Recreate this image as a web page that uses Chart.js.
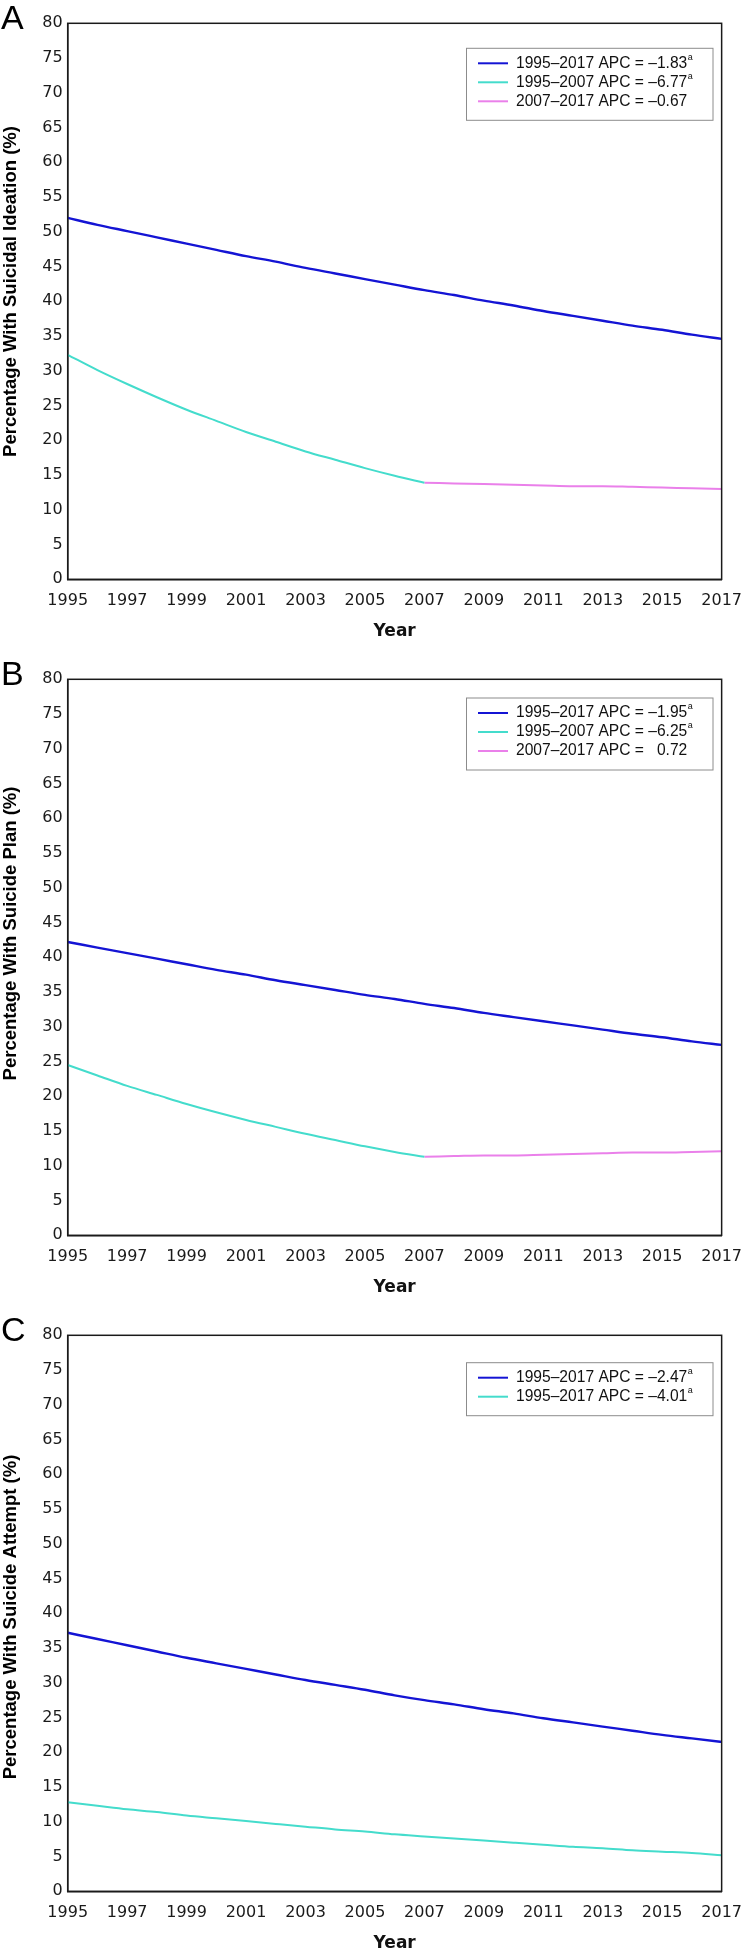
<!DOCTYPE html>
<html>
<head>
<meta charset="utf-8">
<script src="https://cdn.jsdelivr.net/npm/chart.js@4.4.1/dist/chart.umd.min.js"></script>
<style>
  html, body { margin: 0; padding: 0; overflow: hidden; background: #fff; }
  canvas { position: absolute; left: 0; }
</style>
</head>
<body>
<canvas id="chartA" width="754" height="656" style="top:0px"></canvas>
<canvas id="chartB" width="754" height="656" style="top:656px"></canvas>
<canvas id="chartC" width="754" height="656" style="top:1312px"></canvas>
<script>
// Dati, nolasīti no attēla
const years = [1995, 1996, 1997, 1998, 1999, 2000, 2001, 2002, 2003, 2004, 2005, 2006,
               2007, 2008, 2009, 2010, 2011, 2012, 2013, 2014, 2015, 2016, 2017];
const yTicks = [0, 5, 10, 15, 20, 25, 30, 35, 40, 45, 50, 55, 60, 65, 70, 75, 80];

// A - domas par pašnāvību
const ideationOverall = [52.0, 51.0, 50.1, 49.2, 48.3, 47.4, 46.5, 45.7, 44.8, 44.0, 43.2, 42.4,
                         41.6, 40.9, 40.1, 39.4, 38.6, 37.9, 37.2, 36.5, 35.9, 35.2, 34.6];
const ideationEarly = [32.3, 30.1, 28.1, 26.2, 24.4, 22.8, 21.2, 19.8, 18.4, 17.2, 16.0, 14.9, 13.9];
const ideationLate = [13.9, 13.8, 13.7, 13.6, 13.5, 13.4, 13.4, 13.3, 13.2, 13.1, 13.0];
const ideationLegend = ['1995\u20132017 APC = \u20131.83', '1995\u20132007 APC = \u20136.77', '2007\u20132017 APC = \u20130.67'];

// B - plāns
const planOverall = [42.2, 41.4, 40.6, 39.8, 39.0, 38.2, 37.5, 36.7, 36.0, 35.3, 34.6, 34.0,
                     33.3, 32.7, 32.0, 31.4, 30.8, 30.2, 29.6, 29.0, 28.5, 27.9, 27.4];
const planEarly = [24.5, 23.0, 21.5, 20.2, 18.9, 17.7, 16.6, 15.6, 14.6, 13.7, 12.8, 12.0, 11.3];
const planLate = [11.3, 11.4, 11.5, 11.5, 11.6, 11.7, 11.8, 11.9, 11.9, 12.0, 12.1];
const planLegend = ['1995\u20132017 APC = \u20131.95', '1995\u20132007 APC = \u20136.25', '2007\u20132017 APC =   0.72'];

// C - mēģinājums
const attemptBlue = [37.2, 36.3, 35.4, 34.5, 33.6, 32.8, 32.0, 31.2, 30.4, 29.7, 29.0, 28.2,
                     27.5, 26.9, 26.2, 25.6, 24.9, 24.3, 23.7, 23.1, 22.5, 22.0, 21.5];
const attemptCyan = [12.8, 12.3, 11.8, 11.4, 10.9, 10.5, 10.1, 9.7, 9.3, 8.9, 8.6, 8.2,
                     7.9, 7.6, 7.3, 7.0, 6.7, 6.4, 6.2, 5.9, 5.7, 5.5, 5.2];
const attemptLegend = ['1995\u20132017 APC = \u20132.47', '1995\u20132017 APC = \u20134.01'];

const BLUE = '#1414d4';
const CYAN = '#44dccc';
const VIOLET = '#ea80ea';

function points(xs, ys) {
    return ys.map((v, i) => ({ x: xs[i], y: v }));
}

// Burts, rāmis, leģenda un y ass nosaukums
const panelDecor = {
    id: 'panelDecor',
    afterDraw(chart, args, opts) {
        const ctx = chart.ctx;
        const a = chart.chartArea;
        ctx.save();
        ctx.strokeStyle = '#1a1a1a';
        ctx.lineWidth = 1.5;
        ctx.strokeRect(a.left, a.top, a.right - a.left, a.bottom - a.top);

        ctx.fillStyle = '#000';
        ctx.font = '34px "Liberation Sans", Arial, sans-serif';
        ctx.textAlign = 'left';
        ctx.textBaseline = 'alphabetic';
        ctx.fillText(opts.letter, 1, 28.5);

        // y ass nosaukums
        ctx.save();
        ctx.translate(11, opts.titleY);
        ctx.rotate(-Math.PI / 2);
        ctx.font = 'bold 18.5px "Liberation Sans", Arial, sans-serif';
        ctx.textAlign = 'center';
        ctx.textBaseline = 'middle';
        ctx.fillText(opts.yTitle, 0, 0);
        ctx.restore();

        // leģenda
        const n = opts.labels.length;
        const bx = 466.5, bw = 246.5, by = opts.legendTop, bh = 19 * n + 15;
        ctx.fillStyle = '#fff';
        ctx.fillRect(bx, by, bw, bh);
        ctx.strokeStyle = '#8c8c8c';
        ctx.lineWidth = 1;
        ctx.strokeRect(bx, by, bw, bh);
        for (let i = 0; i < n; i++) {
            const y = by + 15 + 19 * i;
            ctx.strokeStyle = opts.colors[i];
            ctx.lineWidth = 2;
            ctx.beginPath();
            ctx.moveTo(478, y);
            ctx.lineTo(508, y);
            ctx.stroke();
            ctx.fillStyle = '#111';
            ctx.font = '15.6px "Liberation Sans", Arial, sans-serif';
            ctx.textBaseline = 'middle';
            ctx.textAlign = 'left';
            ctx.fillText(opts.labels[i], 516, y);
            if (opts.sup[i]) {
                const w = ctx.measureText(opts.labels[i]).width;
                ctx.font = '9px "Liberation Sans", Arial, sans-serif';
                ctx.fillText('a', 516 + w + 0.5, y - 6);
            }
        }
        ctx.restore();
    }
};

function makeChart(id, datasets, decor) {
    const ctx = document.getElementById(id).getContext('2d');
    return new Chart(ctx, {
        type: 'line',
        data: { datasets: datasets },
        plugins: [panelDecor],
        options: {
            responsive: false,
            animation: false,
            layout: { padding: { top: 23.3, right: 23.7, left: 0, bottom: 0 } },
            elements: {
                point: { radius: 0 },
                line: { cubicInterpolationMode: 'monotone' }
            },
            plugins: {
                legend: { display: false },
                tooltip: { enabled: false },
                panelDecor: decor
            },
            scales: {
                x: {
                    type: 'linear',
                    min: 1995,
                    max: 2017,
                    grid: { display: false, drawTicks: false },
                    border: { display: true, color: '#1a1a1a', width: 1.5 },
                    ticks: {
                        stepSize: 2,
                        padding: 12,
                        color: '#1a1a1a',
                        font: { family: '"DejaVu Sans", Verdana, sans-serif', size: 16 },
                        maxRotation: 0,
                        callback: v => String(v)
                    },
                    title: {
                        display: true,
                        text: 'Year',
                        color: '#111',
                        font: { family: '"DejaVu Sans", Verdana, sans-serif', size: 17, weight: 'bold' },
                        padding: { top: 0, bottom: 14.3 }
                    },
                    afterFit: s => { s.height = 656 - 579.3; }
                },
                y: {
                    min: 0,
                    max: 80,
                    afterBuildTicks: s => { s.ticks = yTicks.map(v => ({ value: v })); },
                    grid: { display: false, drawTicks: false },
                    border: { display: true, color: '#1a1a1a', width: 1.5 },
                    ticks: {
                        padding: 5,
                        color: '#1a1a1a',
                        font: { family: '"DejaVu Sans", Verdana, sans-serif', size: 16 }
                    },
                    afterFit: s => { s.width = 67.7; }
                }
            }
        }
    });
}

makeChart('chartA', [
    { data: points(years, ideationOverall), borderColor: BLUE, borderWidth: 2.4 },
    { data: points(years.slice(0, 13), ideationEarly), borderColor: CYAN, borderWidth: 2 },
    { data: points(years.slice(12), ideationLate), borderColor: VIOLET, borderWidth: 2 }
], {
    letter: 'A', yTitle: 'Percentage With Suicidal Ideation (%)', titleY: 291.5,
    legendTop: 48.3, labels: ideationLegend, sup: [true, true, false], colors: [BLUE, CYAN, VIOLET]
});

makeChart('chartB', [
    { data: points(years, planOverall), borderColor: BLUE, borderWidth: 2.4 },
    { data: points(years.slice(0, 13), planEarly), borderColor: CYAN, borderWidth: 2 },
    { data: points(years.slice(12), planLate), borderColor: VIOLET, borderWidth: 2 }
], {
    letter: 'B', yTitle: 'Percentage With Suicide Plan (%)', titleY: 277.5,
    legendTop: 42, labels: planLegend, sup: [true, true, false], colors: [BLUE, CYAN, VIOLET]
});

makeChart('chartC', [
    { data: points(years, attemptBlue), borderColor: BLUE, borderWidth: 2.4 },
    { data: points(years, attemptCyan), borderColor: CYAN, borderWidth: 2 }
], {
    letter: 'C', yTitle: 'Percentage With Suicide Attempt (%)', titleY: 305,
    legendTop: 50.7, labels: attemptLegend, sup: [true, true], colors: [BLUE, CYAN]
});
</script>
</body>
</html>
